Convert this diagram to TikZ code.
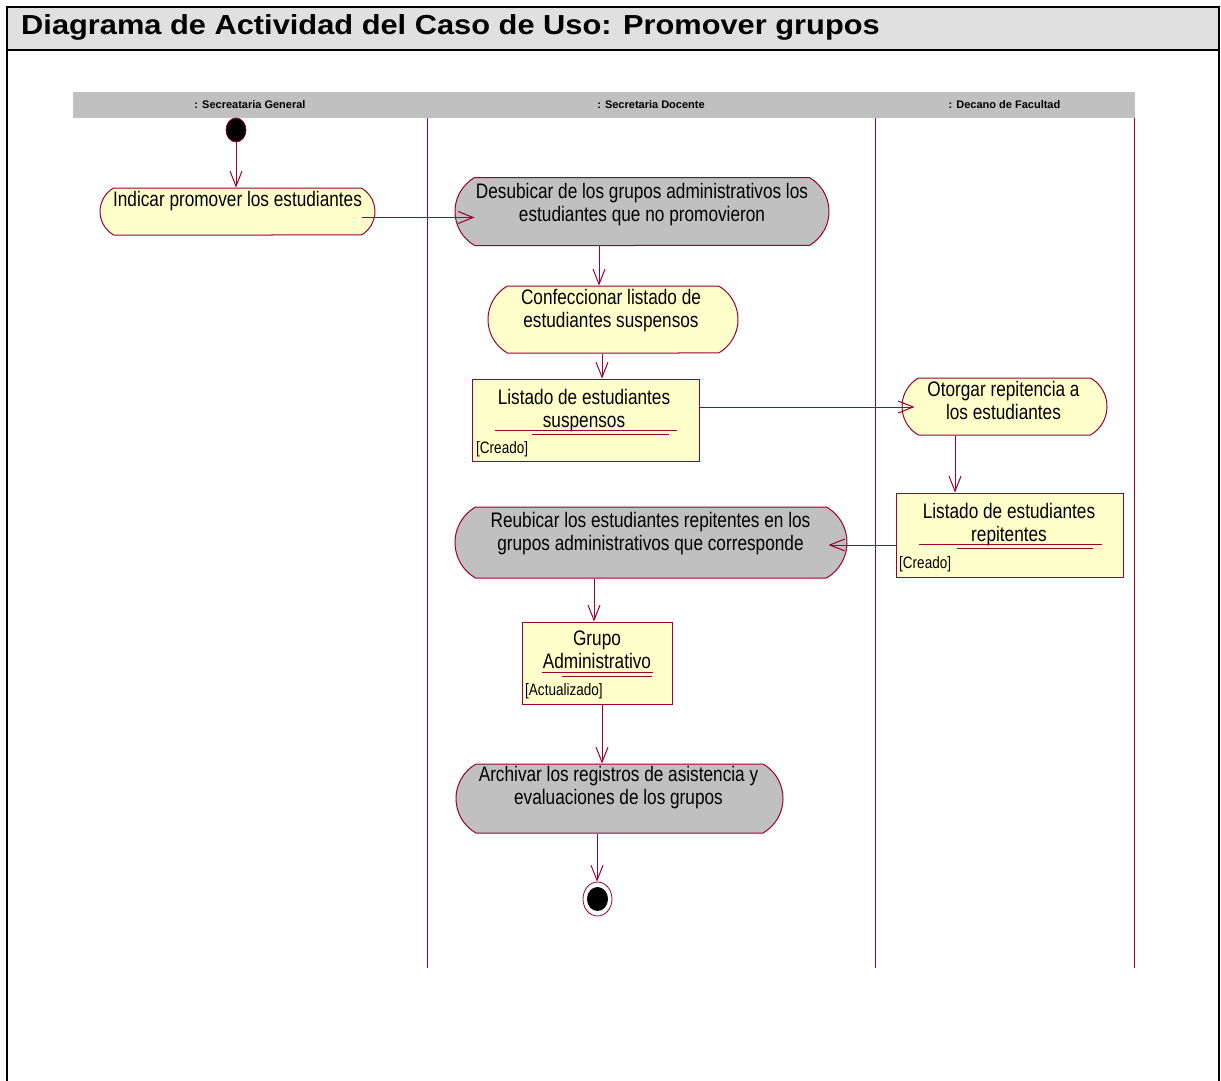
\documentclass[tikz,border=0pt]{standalone}
\usepackage{fontspec}
\setmainfont{Liberation Sans}
\newfontfamily\bodyf{Liberation Sans}[FakeStretch=0.82]
\newfontfamily\titlef{Liberation Sans}[FakeStretch=1.12]
\usetikzlibrary{arrows.meta,shapes.misc,shapes.geometric,calc}
\definecolor{rose}{RGB}{153,0,51}
\definecolor{actyel}{RGB}{255,255,204}
\definecolor{actgray}{RGB}{192,192,192}
\definecolor{titlegray}{RGB}{224,224,224}
\begin{document}
\begin{tikzpicture}[x=1pt,y=-1pt,
  act/.style={rounded rectangle, rounded rectangle arc length=120, draw=rose, line width=1pt, inner sep=0pt},
  yel/.style={fill=actyel}, gry/.style={fill=actgray},
  obj/.style={rectangle, draw=rose, fill=actyel, line width=1pt, inner sep=0pt},
  txt/.style={inner sep=0pt, align=center, font=\bodyf\fontsize{21}{23}\selectfont, anchor=north},
  stat/.style={font=\bodyf\fontsize{16.5}{18}\selectfont, inner sep=0pt, anchor=base west},
  flow/.style={draw=rose, line width=1pt, -{Straight Barb[length=15pt,width=12pt]}},
  lane/.style={draw=rose, line width=0.8pt},
  lanelbl/.style={font=\bfseries\fontsize{11}{13}\selectfont, inner sep=0pt},
  uline/.style={draw=rose, line width=0.9pt}
]
\useasboundingbox (0,0) rectangle (1221,1081);
% frame and title
\fill[titlegray] (7,7) rectangle (1219,50);
\draw[line width=2.5pt] (7,50) -- (1219,50);
\draw[line width=2pt] (7,1081) -- (7,7) -- (1219,7) -- (1219,1081);
\node[anchor=base west, inner sep=0pt, font=\titlef\bfseries\fontsize{27.5}{30}\selectfont] (title) at (21,34.5) {Diagrama de Actividad del Caso de Uso: Promover grupos};
% swimlanes
\fill[actgray] (73,92) rectangle (1135,118);
\node[lanelbl] (l1) at (250,105) {: Secreataria General};
\node[lanelbl] (l2) at (651,105) {: Secretaria Docente};
\node[lanelbl] (l3) at (1004.5,105) {: Decano de Facultad};
\draw[lane] (427,118) -- (427,968);
\draw[lane] (875,118) -- (875,968);
\draw[lane] (1134,118) -- (1134,968);
% start
\node[ellipse, fill=black, draw=rose, line width=0.8pt, minimum width=20pt, minimum height=24pt, inner sep=0pt] (start) at (236,130) {};
% activities
\node[act,yel,minimum width=275pt,minimum height=47pt] (ind) at (237.5,211.5) {};
\node[txt] (tind) at (237.5,191) {Indicar promover los estudiantes};
\node[act,gry,minimum width=374pt,minimum height=68pt] (des) at (642,211.5) {};
\node[txt] (tdes) at (642,183) {Desubicar de los grupos administrativos los\\estudiantes que no promovieron};
\node[act,yel,minimum width=250pt,minimum height=67pt] (conf) at (613,319.5) {};
\node[txt] (tconf) at (611,289) {Confeccionar listado de\\estudiantes suspensos};
\node[obj,minimum width=227pt,minimum height=82pt] (lss) at (585.5,420) {};
\node[txt] (tlss) at (584,389.5) {Listado de estudiantes\\suspensos};
\draw[uline] (495,430) -- (677,430);
\draw[uline] (532,434) -- (669,434);
\node[stat] (slss) at (476,453) {[Creado]};
\node[act,yel,minimum width=205pt,minimum height=57pt] (oto) at (1004.5,406.5) {};
\node[txt] (toto) at (1003.5,381) {Otorgar repitencia a\\los estudiantes};
\node[obj,minimum width=227pt,minimum height=84pt] (lsr) at (1009.5,535) {};
\node[txt] (tlsr) at (1009,503.5) {Listado de estudiantes\\repitentes};
\draw[uline] (919,544) -- (1102,544);
\draw[uline] (957,548) -- (1093,548);
\node[stat] (slsr) at (899,568) {[Creado]};
\node[act,gry,minimum width=392pt,minimum height=71pt] (reu) at (651,542.5) {};
\node[txt] (treu) at (650.5,512) {Reubicar los estudiantes repitentes en los\\grupos administrativos que corresponde};
\node[obj,minimum width=150pt,minimum height=82pt] (ga) at (597,663) {};
\node[txt] (tga) at (597,631) {Grupo\\Administrativo};
\draw[uline] (542,672) -- (653,672);
\draw[uline] (562,676) -- (652,676);
\node[stat] (sga) at (525,695) {[Actualizado]};
\node[act,gry,minimum width=327pt,minimum height=69pt] (arc) at (619.5,798.5) {};
\node[txt] (tarc) at (618.5,766.5) {Archivar los registros de asistencia y\\evaluaciones de los grupos};
% end
\node[ellipse, draw=rose, fill=white, line width=0.8pt, minimum width=29pt, minimum height=34pt, inner sep=0pt] (endo) at (597.5,899) {};
\node[ellipse, fill=black, minimum width=21pt, minimum height=24pt, inner sep=0pt] (endi) at (597.5,899) {};
% flows
\draw[flow] (start.south) -- ($(ind.north)+(-1.5,0)$);
\draw[flow] ($(ind.east)+(-14,6)$) -- ($(des.west)+(20,6)$);
\draw[flow] ($(des.south)+(-43,0)$) -- ($(conf.north)+(-14,0)$);
\draw[flow] ($(conf.south)+(-11,0)$) -- ($(lss.north)+(16.5,0)$);
\draw[flow] ($(lss.east)+(0,-13)$) -- ($(oto.west)+(13,0.5)$);
\draw[flow] ($(oto.south)+(-49.5,0)$) -- ($(lsr.north)+(-54.5,0)$);
\draw[flow] ($(lsr.west)+(0,10)$) -- ($(reu.east)+(-19,2.5)$);
\draw[flow] ($(reu.south)+(-57,0)$) -- ($(ga.north)+(-3,0)$);
\draw[flow] ($(ga.south)+(5,0)$) -- ($(arc.north)+(-17.5,0)$);
\draw[flow] ($(arc.south)+(-22.5,0)$) -- ($(endo.north)+(-0.5,0)$);
\end{tikzpicture}
\end{document}
